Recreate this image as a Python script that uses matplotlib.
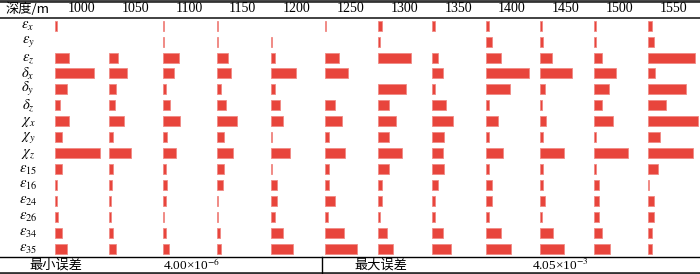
import numpy as np
import matplotlib.pyplot as plt

plt.rcParams['mathtext.fontset'] = 'stix'

depths = [1000, 1050, 1100, 1150, 1200, 1250, 1300, 1350, 1400, 1450, 1500, 1550]
params = [r'$\varepsilon_x$', r'$\varepsilon_y$', r'$\varepsilon_z$',
          r'$\delta_x$', r'$\delta_y$', r'$\delta_z$',
          r'$\chi_x$', r'$\chi_y$', r'$\chi_z$',
          r'$\varepsilon_{15}$', r'$\varepsilon_{16}$', r'$\varepsilon_{24}$',
          r'$\varepsilon_{26}$', r'$\varepsilon_{34}$', r'$\varepsilon_{35}$']

# relative error per depth (one list per depth column, rows in params order)
err_1000 = [1.7, 0, 13.3, 38.3, 12, 4.3, 13.3, 6.3, 44.3, 6.3, 1.7, 1.7, 3, 6.3, 12]
err_1050 = [0, 0, 9, 17.7, 7.3, 6, 14.7, 4.3, 22, 4.3, 3, 1.7, 1.7, 4.3, 7.3]
err_1100 = [1.3, 1.3, 16, 11.3, 2.7, 7.3, 17.3, 4, 13.3, 2.7, 4, 2.7, 1.3, 2.7, 5.7]
err_1150 = [1.3, 1.3, 11.3, 14.3, 4, 8.7, 20.3, 7.3, 16, 7.3, 5.7, 1.3, 1.3, 2.7, 4]
err_1200 = [0, 1.7, 4.7, 25, 4.7, 9, 12, 1.7, 19.3, 1.7, 6, 6, 4.7, 12, 22.3]
err_1250 = [1.3, 0, 14.7, 23.3, 0, 10.3, 17.7, 4.3, 20.7, 4.3, 4.3, 10.3, 3, 19, 32]
err_1300 = [3.3, 1.7, 32.3, 0, 28, 10.3, 17.7, 10.3, 23.7, 10.3, 3.3, 3.3, 1.7, 9, 14.7]
err_1350 = [3, 0, 6, 10.3, 3, 13.3, 20.7, 12, 10.3, 12, 6, 3, 3, 10.3, 19]
err_1400 = [3.3, 6, 15, 42.7, 23.7, 3.3, 12, 3.3, 16.7, 3.3, 6, 6, 3.3, 15, 25.3]
err_1450 = [1.7, 3, 11.7, 32.3, 4.7, 1.7, 6, 3.3, 23.7, 3.3, 3.3, 4.7, 1.7, 13.3, 23.7]
err_1500 = [2, 1.7, 7.7, 22, 15, 7.7, 19.3, 1.7, 34, 2, 4.7, 4.7, 4.7, 7.7, 16.3]
err_1550 = [4.7, 6, 47, 7.7, 38.3, 18, 50, 12, 45.7, 10.7, 1.7, 6, 6, 4.7, 4.7]
errors = [err_1000, err_1050, err_1100, err_1150, err_1200, err_1250,
          err_1300, err_1350, err_1400, err_1450, err_1500, err_1550]

min_err = '4.00×10$^{-6}$'
max_err = '4.05×10$^{-3}$'

W, H = 700, 274
fig = plt.figure(figsize=(W / 100, H / 100), dpi=100)
ax = fig.add_axes([0, 0, 1, 1])
ax.set_xlim(0, W)
ax.set_ylim(H, 0)
ax.axis('off')

col0, col_w = 55.3, 53.85
row0, row_h = 25.7, 15.93
ys = row0 + row_h * np.arange(len(params))

serif = ['Liberation Serif', 'DejaVu Serif']
cjk = ['Noto Sans CJK SC', 'DejaVu Sans']

for i, d in enumerate(depths):
    x0 = col0 + col_w * i
    vals = np.array(errors[i])
    keep = vals > 0  # zero error -> no bar drawn
    ax.barh(ys[keep], vals[keep], left=x0, height=10, color='#e8453c',
            edgecolor='#f08a84', linewidth=0.6)
    ax.text(x0 + 26, 9, str(d), ha='center', va='center', fontsize=10, family=serif)

for y, p in zip(ys, params):
    ax.text(28, y, p, ha='center', va='center', fontsize=10.5)

ax.text(27, 9, '深度/m', ha='center', va='center', fontsize=9.5,
        family=['Noto Sans CJK SC', 'Liberation Serif'])

# table rules
ax.axhline(1, color='#333333', lw=2)
ax.axhline(17.5, color='#333333', lw=1.3)
ax.axhline(256.5, color='black', lw=1)
ax.axhline(272.5, color='#333333', lw=2)
ax.plot([322, 322], [256.5, 272.5], color='black', lw=1)

ax.text(56, 265, '最小误差', ha='center', va='center', fontsize=9.5, family=cjk)
ax.text(163, 265, min_err, ha='left', va='center', fontsize=9.5,
        family=['Liberation Serif', 'Noto Sans CJK SC'])
ax.text(381, 265, '最大误差', ha='center', va='center', fontsize=9.5, family=cjk)
ax.text(532, 265, max_err, ha='left', va='center', fontsize=9.5,
        family=['Liberation Serif', 'Noto Sans CJK SC'])

fig.savefig('out.png', dpi=100)
